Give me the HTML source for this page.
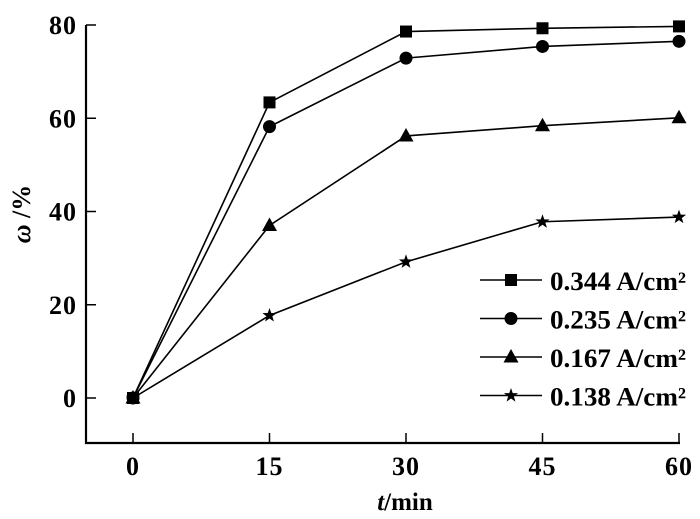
<!DOCTYPE html>
<html><head><meta charset="utf-8"><style>body{margin:0;background:#fff}svg{display:block;font-family:"Liberation Serif",serif;font-weight:bold}</style></head>
<body>
<svg id="c" width="700" height="519" viewBox="0 0 700 519"></svg>
<script>
const times=[0,15,30,45,60];
const xTicks=[0,15,30,45,60];
const yTicks=[0,20,40,60,80];
const seriesNames=["0.344 A/cm²","0.235 A/cm²","0.167 A/cm²","0.138 A/cm²"];
const s1=[0,63.4,78.6,79.3,79.7];
const s2=[0,58.2,72.9,75.4,76.5];
const s3=[0,37.0,56.2,58.4,60.1];
const s4=[0,17.7,29.2,37.8,38.8];
const series=[s1,s2,s3,s4];
const markers=["square","circle","triangle","star"];
const NS="http://www.w3.org/2000/svg",svg=document.getElementById('c');
const X=t=>133+t*(546/60), Y=v=>398-v*(373/80);
function mk(tag,a,p){const e=document.createElementNS(NS,tag);for(const k in a)e.setAttribute(k,a[k]);(p||svg).appendChild(e);return e;}
const ax=mk('g',{});
mk('path',{d:`M86 ${Y(80)} V443 H680`,fill:'none',stroke:'#000','stroke-width':2.2},ax);
yTicks.forEach(v=>{mk('line',{x1:86,x2:96,y1:Y(v),y2:Y(v),stroke:'#000','stroke-width':1.5},ax);
 const t=mk('text',{x:77,y:Y(v)+9,'text-anchor':'end','font-size':26,'letter-spacing':1},ax);t.textContent=v;
 });
xTicks.forEach(v=>{mk('line',{x1:X(v),x2:X(v),y1:443,y2:433,stroke:'#000','stroke-width':1.5},ax);
 const t=mk('text',{x:X(v),y:475,'text-anchor':'middle','font-size':26,'letter-spacing':1},ax);t.textContent=v;
 });
const xt=mk('text',{x:405,y:510,'text-anchor':'middle','font-size':25});xt.innerHTML='<tspan font-style="italic">t</tspan>/min';

const yt=mk('text',{x:0,y:0,'text-anchor':'middle','font-size':26,transform:'translate(30,214) rotate(-90)'});yt.innerHTML='<tspan font-style="italic">ω</tspan> /%';

function marker(type,x,y,g){
 if(type==='square')mk('rect',{x:x-6,y:y-6,width:12,height:12,fill:'#000'},g);
 else if(type==='circle')mk('circle',{cx:x,cy:y,r:6.5,fill:'#000'},g);
 else if(type==='triangle')mk('path',{d:`M${x} ${y-8}L${x+7.5} ${y+5.5}L${x-7.5} ${y+5.5}Z`,fill:'#000'},g);
 else{let d='';for(let i=0;i<10;i++){const r=i%2?3:7.5,a=-Math.PI/2+i*Math.PI/5;d+=(i?'L':'M')+(x+r*Math.cos(a))+' '+(y+r*Math.sin(a));}mk('path',{d:d+'Z',fill:'#000'},g);}
}
series.forEach((s,i)=>{const g=mk('g',{});
 
 mk('polyline',{points:s.map((v,j)=>X(times[j])+','+Y(v)).join(' '),fill:'none',stroke:'#000','stroke-width':1.6},g);
 s.forEach((v,j)=>marker(markers[i],X(times[j]),Y(v),g));
 const ly=280+i*38.5,lg=mk('g',{});
 
 mk('line',{x1:480,x2:542,y1:ly,y2:ly,stroke:'#000','stroke-width':1.6},lg);
 marker(markers[i],511,ly,lg);
 const t=mk('text',{x:550,y:ly+10,'font-size':26,textLength:136,lengthAdjust:'spacingAndGlyphs'},lg);t.textContent=seriesNames[i];
});
</script>
</body></html>
